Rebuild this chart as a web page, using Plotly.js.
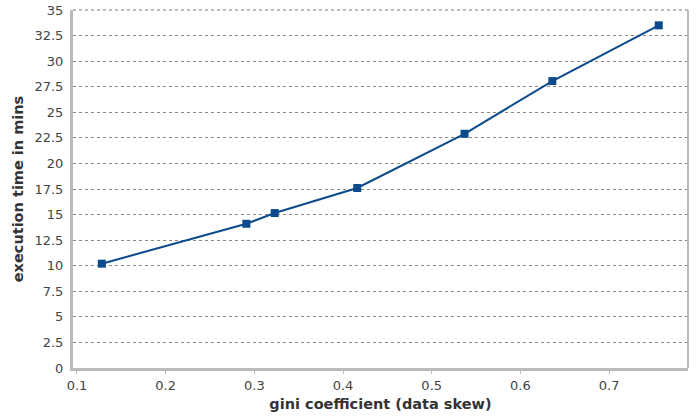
<!DOCTYPE html>
<html><head><meta charset="utf-8">
<script src="https://cdn.plot.ly/plotly-3.0.1.min.js"></script>
<style>html,body{margin:0;padding:0;background:#fff}</style>
</head><body><div id="chart" style="width:700px;height:420px"></div>
<script>
const gini = [0.128, 0.291, 0.323, 0.416, 0.537, 0.636, 0.756];
const execTime = [10.2, 14.1, 15.15, 17.6, 22.9, 28.05, 33.5];
const yTickVals = [0,2.5,5,7.5,10,12.5,15,17.5,20,22.5,25,27.5,30,32.5,35];
const xTickVals = [0.1,0.2,0.3,0.4,0.5,0.6,0.7];

const trace = {
  x: gini, y: execTime, type: 'scatter', mode: 'lines+markers',
  line: {color: '#0b4a8b', width: 2},
  marker: {symbol: 'square', size: 8, color: '#0b4a8b'},
  hoverinfo: 'skip'
};
const layout = {
  width: 700, height: 420,
  margin: {l: 73, r: 12, t: 10, b: 52},
  paper_bgcolor: '#fff', plot_bgcolor: '#fff',
  font: {family: 'DejaVu Sans, sans-serif', size: 13, color: '#444'},
  showlegend: false,
  xaxis: {
    range: [0.0955, 0.789], tickvals: xTickVals, ticktext: xTickVals.map(String),
    showgrid: false, zeroline: false, showline: true, linecolor: '#bbb', linewidth: 3,
    ticks: 'outside', ticklen: 3, tickcolor: '#bbb',
    tickfont: {size: 13, color: '#444'},
    title: {text: 'gini coefficient (data skew)', font: {size: 14.5, color: '#333', weight: 'bold'}, standoff: 8}
  },
  yaxis: {
    range: [0, 35], tickvals: yTickVals, ticktext: yTickVals.map(String),
    showgrid: true, gridcolor: '#888', griddash: 'dot', gridwidth: 1,
    zeroline: false, showline: true, linecolor: '#bbb', linewidth: 3,
    ticks: 'outside', ticklen: 4, tickcolor: '#fff',
    tickfont: {size: 13, color: '#444'},
    title: {text: 'execution time in mins', font: {size: 14.5, color: '#333', weight: 'bold'}, standoff: 8}
  },
  shapes: [
    {type: 'line', xref: 'paper', yref: 'paper', x0: 1, x1: 1, y0: 0, y1: 1, line: {color: '#bbb', width: 2}},
    {type: 'line', xref: 'paper', yref: 'paper', x0: 0, x1: 1, y0: 1, y1: 1, line: {color: '#bbb', width: 2, dash: 'dot'}}
  ]
};
Plotly.newPlot('chart', [trace], layout, {displayModeBar: false, staticPlot: true});
</script></body></html>
